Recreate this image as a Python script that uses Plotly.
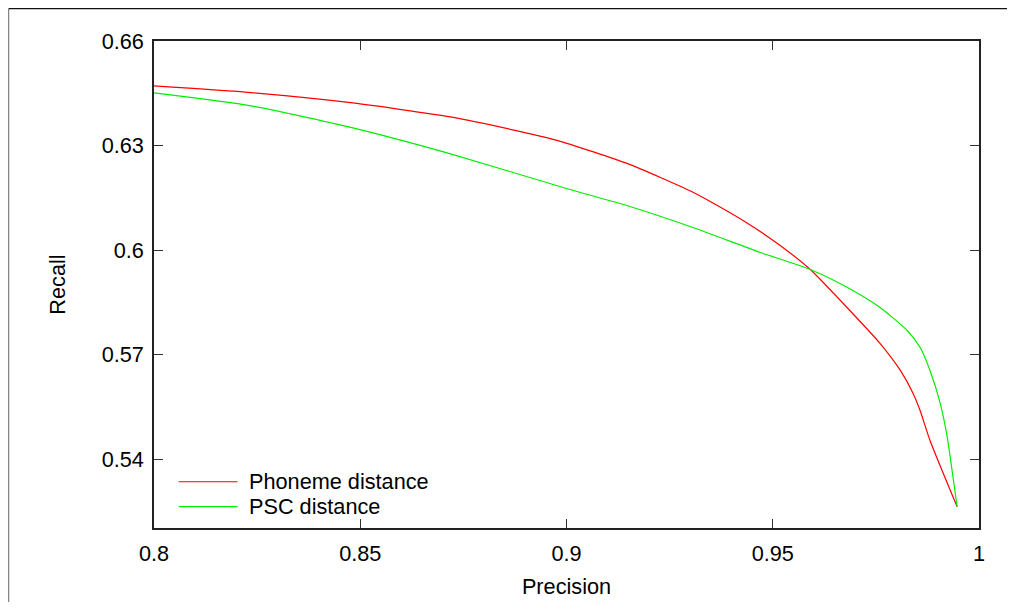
import plotly.graph_objects as go

# precision / recall curves
phoneme_precision = [0.8, 0.8235, 0.8477, 0.8719, 0.8881, 0.8985, 0.9148, 0.9308, 0.9429,
                     0.9518, 0.9591, 0.9680, 0.9760, 0.9809, 0.9840, 0.9857, 0.9881, 0.9947]
phoneme_recall = [0.6471, 0.6452, 0.6423, 0.6382, 0.6342, 0.6312, 0.6248, 0.6165, 0.6084,
                  0.6013, 0.5944, 0.5835, 0.5732, 0.5655, 0.5589, 0.5540, 0.5454, 0.5263]

psc_precision = [0.8, 0.8235, 0.8477, 0.8719, 0.9002, 0.9148, 0.9308, 0.9470, 0.9591,
                 0.9680, 0.9760, 0.9826, 0.9857, 0.9881, 0.9906, 0.9923, 0.9937, 0.9947]
psc_recall = [0.6451, 0.6414, 0.6352, 0.6276, 0.6176, 0.6127, 0.6064, 0.5993, 0.5944,
              0.5893, 0.5835, 0.5769, 0.5721, 0.5655, 0.5560, 0.5463, 0.5348, 0.5263]

x_ticks = [0.8, 0.85, 0.9, 0.95, 1.0]
x_labels = ["0.8", "0.85", "0.9", "0.95", "1"]
y_ticks = [0.54, 0.57, 0.6, 0.63, 0.66]
y_labels = ["0.54", "0.57", "0.6", "0.63", "0.66"]

series_names = ["Phoneme distance", "PSC distance"]
series_colors = ["#ff0000", "#00ee00"]

FONT = "Liberation Sans, Arial, sans-serif"
FS = 21.7

fig = go.Figure()
fig.add_trace(go.Scatter(x=phoneme_precision, y=phoneme_recall, mode="lines",
                         name=series_names[0],
                         line=dict(color=series_colors[0], width=1.2, shape="spline", smoothing=0.6)))
fig.add_trace(go.Scatter(x=psc_precision, y=psc_recall, mode="lines",
                         name=series_names[1],
                         line=dict(color=series_colors[1], width=1.2, shape="spline", smoothing=0.6)))

axis_style = dict(showline=True, mirror="ticks", linecolor="#222", linewidth=1.5,
                  ticks="inside", ticklen=9, tickwidth=1, tickcolor="#333",
                  showgrid=False, zeroline=False, automargin=False,
                  tickfont=dict(family=FONT, size=FS, color="black"),
                  title_font=dict(family=FONT, size=FS, color="black"))

fig.update_xaxes(range=[0.8, 1.0], tickvals=x_ticks, ticktext=x_labels,
                 title_text="Precision", title_standoff=14, ticklabelstandoff=5, **axis_style)
fig.update_yaxes(range=[0.5202, 0.66], tickvals=y_ticks, ticktext=y_labels,
                 title_text="Recall", title_standoff=30, ticklabelstandoff=4, **axis_style)

# hand-drawn key in the lower left, gnuplot style
for i, (name, color) in enumerate(zip(series_names, series_colors)):
    yk = 0.095 - i * 0.051
    fig.add_shape(type="line", xref="paper", yref="paper",
                  x0=0.0299, x1=0.1013, y0=yk, y1=yk,
                  line=dict(color=color, width=1.2))
    fig.add_annotation(xref="paper", yref="paper", x=0.113, y=yk, text=name,
                       showarrow=False, xanchor="left", yanchor="middle",
                       font=dict(family=FONT, size=FS, color="black"))

# outer page frame: only the left and top edges show in the picture
fig.add_shape(type="line", xref="paper", yref="paper",
              x0=-0.1761, x1=-0.1761, y0=-0.3, y1=1.0666,
              line=dict(color="#666", width=1), layer="below")
fig.add_shape(type="line", xref="paper", yref="paper",
              x0=-0.1761, x1=1.3, y0=1.0666, y1=1.0666,
              line=dict(color="#111", width=1.5), layer="below")

# sized so the page (with its 8px body margin) does not overflow the window
fig.update_layout(width=999, height=594,
                  margin=dict(l=146, r=28, t=33, b=74),
                  plot_bgcolor="white", paper_bgcolor="white",
                  showlegend=False,
                  font=dict(family=FONT, size=FS, color="black"))

fig.write_html("out.html")
